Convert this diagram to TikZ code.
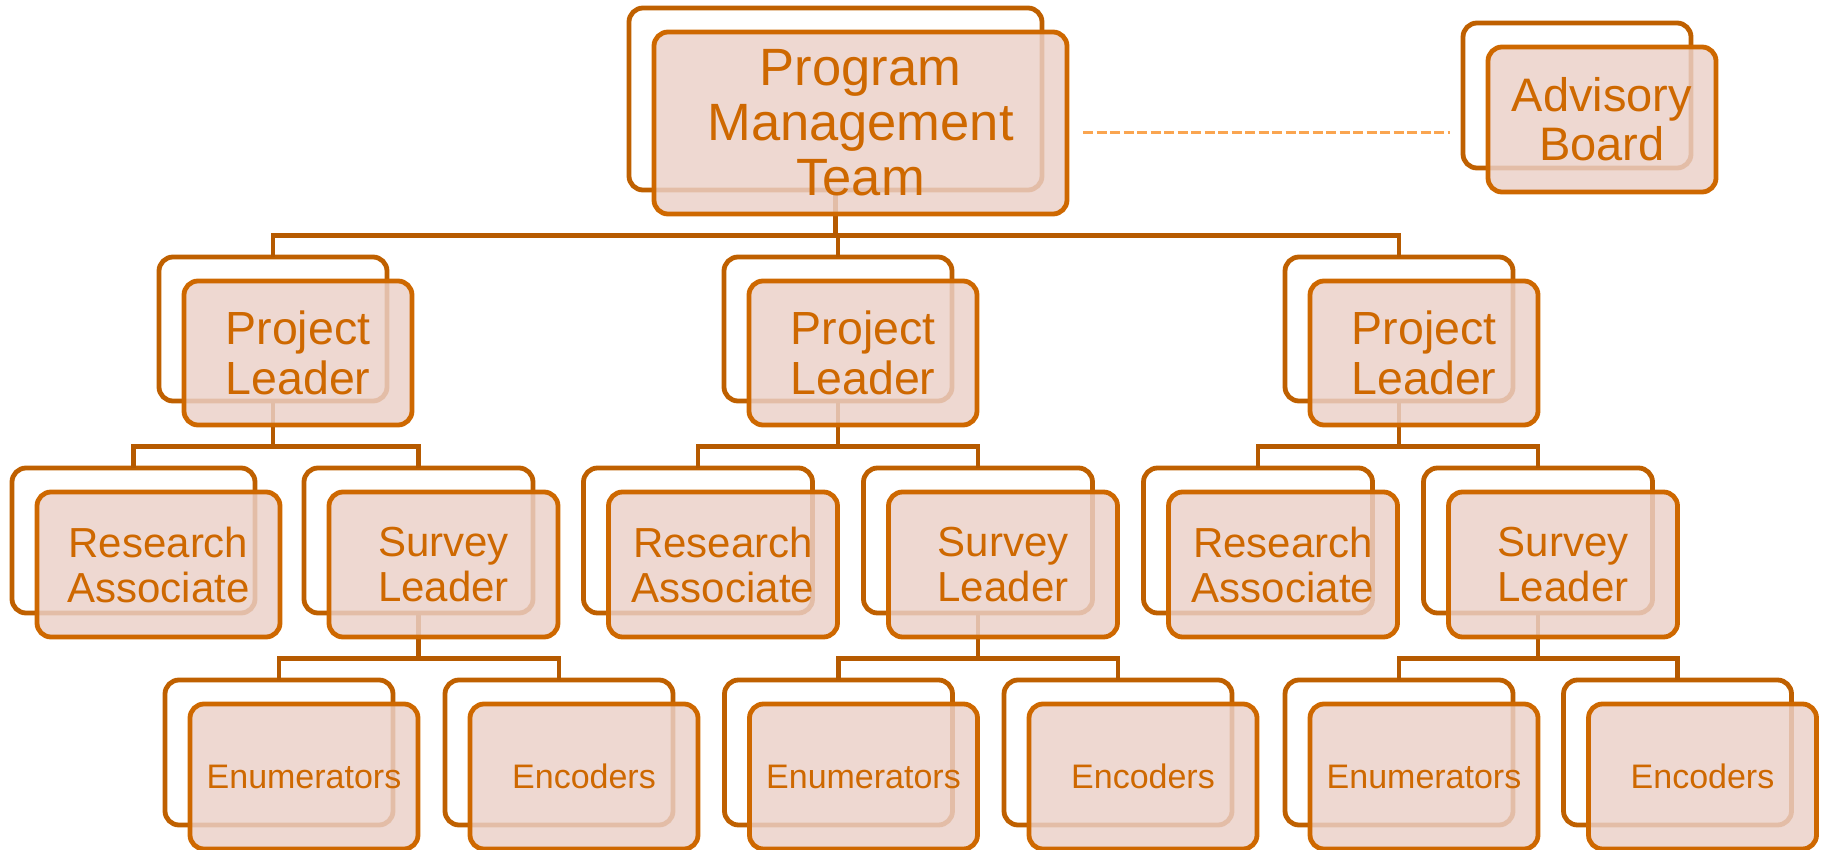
\documentclass[tikz,border=0pt]{standalone}
\usepackage{fontspec}
\setmainfont{Liberation Sans}
\usetikzlibrary{calc}
\definecolor{backc}{RGB}{191,96,0}
\definecolor{frontc}{RGB}{206,104,0}
\definecolor{connc}{RGB}{182,90,0}
\definecolor{fillc}{RGB}{235,208,200}
\definecolor{dashc}{RGB}{250,165,80}
\tikzset{
  backbox/.style={draw=backc, line width=4.8pt, rounded corners=14pt, inner sep=0pt, outer sep=0pt},
  frontbox/.style={draw=frontc, line width=4.8pt, rounded corners=14pt, fill=fillc, fill opacity=0.84, text opacity=1, text=frontc, inner sep=0pt, outer sep=0pt, align=center},
  conn/.style={draw=connc, line width=4.8pt},
  dashline/.style={draw=dashc, line width=3pt, dash pattern=on 10pt off 3.5pt},
  fpmt/.style={font=\fontsize{52.5}{55}\selectfont},
  fadv/.style={font=\fontsize{47}{49}\selectfont},
  fpl/.style={font=\fontsize{46.5}{50}\selectfont},
  fra/.style={font=\fontsize{42}{45}\selectfont},
  fen/.style={font=\fontsize{34}{36}\selectfont},
}
% back box: name, cx, top, w, h
\newcommand\backpart[5]{%
  \node[backbox, minimum width=#4pt, minimum height=#5pt] (#1B) at ({#2},{#3+#5/2}) {};}
% front box: name, cx(back), top(back), w, h, font style, text
\newcommand\frontpart[7]{%
  \node[frontbox, #6, minimum width=#4pt, minimum height=#5pt] (#1) at ({#2+25},{#3+24+#5/2}) {#7};}
\begin{document}
\begin{tikzpicture}[x=1pt,y=-1pt]
\useasboundingbox (0,0) rectangle (1826,850);
% back boxes
\backpart{pmt}{835.5}{8}{413}{182}
\backpart{adv}{1577}{23}{228}{145}
\backpart{pla}{273}{257}{228}{144}
\backpart{plb}{838}{257}{228}{144}
\backpart{plc}{1399}{257}{228}{144}
\backpart{raa}{133.5}{468}{243}{145}
\backpart{sla}{418.5}{468}{229}{145}
\backpart{rab}{698}{468}{229}{145}
\backpart{slb}{978}{468}{229}{145}
\backpart{rac}{1258}{468}{229}{145}
\backpart{slc}{1538}{468}{229}{145}
\backpart{ena}{279}{680}{228}{145}
\backpart{eca}{559}{680}{228}{145}
\backpart{enb}{838.5}{680}{228}{145}
\backpart{ecb}{1118}{680}{228}{145}
\backpart{enc}{1399}{680}{228}{145}
\backpart{ecc}{1677.5}{680}{228}{145}
% bus levels
\path (835.5+25,{8+24+182}) coordinate (pmtbot);
\path (pmtbot) -- (plaB.north) coordinate[pos=.5] (m1);
\path (298,425) -- (raaB.north) coordinate[pos=.5] (m2);
\path (443.5,637) -- (enaB.north) coordinate[pos=.5] (m3);
% connectors
\draw[conn] (pmtB.south) -- (pmtB.south |- m1);
\draw[conn] (plaB.north) |- (plcB.north |- m1) -- (plcB.north);
\draw[conn] (plbB.north) -- (plbB.north |- m1);
\draw[conn] (plaB.south) -- (plaB.south |- m2);
\draw[conn] (raaB.north) |- (slaB.north |- m2) -- (slaB.north);
\draw[conn] (plbB.south) -- (plbB.south |- m2);
\draw[conn] (rabB.north) |- (slbB.north |- m2) -- (slbB.north);
\draw[conn] (plcB.south) -- (plcB.south |- m2);
\draw[conn] (racB.north) |- (slcB.north |- m2) -- (slcB.north);
\draw[conn] (slaB.south) -- (slaB.south |- m3);
\draw[conn] (enaB.north) |- (ecaB.north |- m3) -- (ecaB.north);
\draw[conn] (slbB.south) -- (slbB.south |- m3);
\draw[conn] (enbB.north) |- (ecbB.north |- m3) -- (ecbB.north);
\draw[conn] (slcB.south) -- (slcB.south |- m3);
\draw[conn] (encB.north) |- (eccB.north |- m3) -- (eccB.north);
% front boxes
\frontpart{pmt}{835.5}{8}{413}{182}{fpmt}{Program\\Management\\Team}
\frontpart{adv}{1577}{23}{228}{145}{fadv}{Advisory\\Board}
\frontpart{pla}{273}{257}{228}{144}{fpl}{Project\\Leader}
\frontpart{plb}{838}{257}{228}{144}{fpl}{Project\\Leader}
\frontpart{plc}{1399}{257}{228}{144}{fpl}{Project\\Leader}
\frontpart{raa}{133.5}{468}{243}{145}{fra}{Research\\Associate}
\frontpart{sla}{418.5}{468}{229}{145}{fra}{Survey\\Leader}
\frontpart{rab}{698}{468}{229}{145}{fra}{Research\\Associate}
\frontpart{slb}{978}{468}{229}{145}{fra}{Survey\\Leader}
\frontpart{rac}{1258}{468}{229}{145}{fra}{Research\\Associate}
\frontpart{slc}{1538}{468}{229}{145}{fra}{Survey\\Leader}
\frontpart{ena}{279}{680}{228}{145}{fen}{Enumerators}
\frontpart{eca}{559}{680}{228}{145}{fen}{Encoders}
\frontpart{enb}{838.5}{680}{228}{145}{fen}{Enumerators}
\frontpart{ecb}{1118}{680}{228}{145}{fen}{Encoders}
\frontpart{enc}{1399}{680}{228}{145}{fen}{Enumerators}
\frontpart{ecc}{1677.5}{680}{228}{145}{fen}{Encoders}
% dashed link
\path (pmt.east) ++(16,10) coordinate (dA);
\draw[dashline, shorten >=13pt] (dA) -- (dA -| advB.west);
\end{tikzpicture}
\end{document}
